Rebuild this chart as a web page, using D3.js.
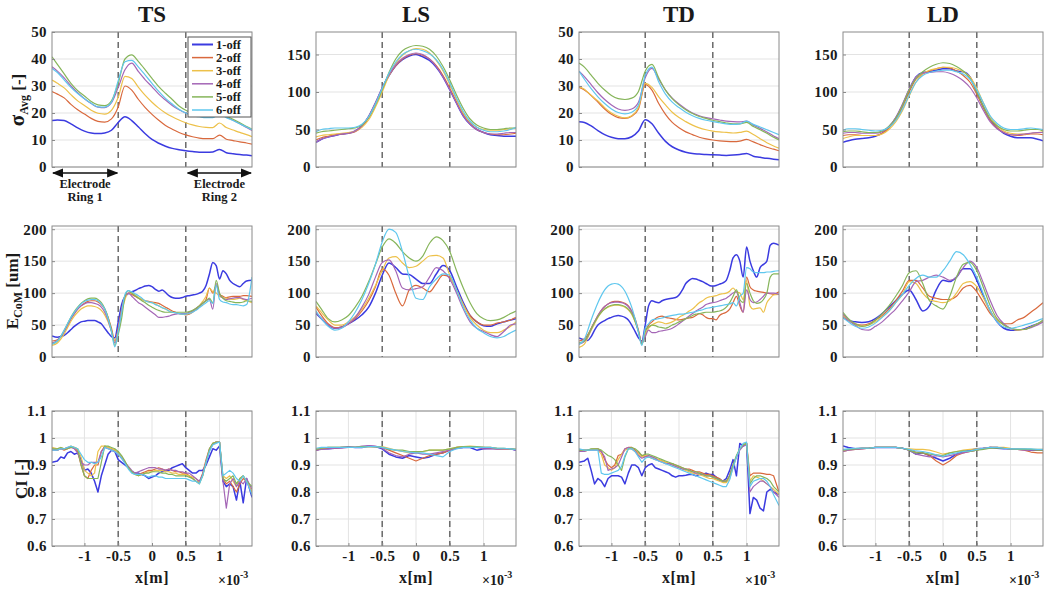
<!DOCTYPE html>
<html><head><meta charset="utf-8">
<script src="https://cdn.jsdelivr.net/npm/d3@7"></script>
<style>
body{margin:0;background:#fff}
svg{display:block}
text{font-family:"Liberation Serif","Times New Roman",serif;font-weight:bold;fill:#1a1a1a}
</style>
</head><body>
<svg id="c" width="1050" height="589"></svg>
<script>
const seriesNames = ['1-off','2-off','3-off','4-off','5-off','6-off'];
const seriesColors = ['#3b3be0','#d9693d','#edc14a','#a466b6','#86b55a','#5fc7ee'];
const columnTitles = ['TS','LS','TD','LD'];
const xTickValues = [-1,-0.5,0,0.5,1];
const xTickLabels = ['-1','-0.5','0','0.5','1'];
const electrodeEdges = [-0.5,0.5];
const xCoarse = [-1.48,-1.4,-1.3,-1.2,-1.1,-1,-0.9,-0.8,-0.7,-0.6,-0.5,-0.4,-0.3,-0.2,-0.1,0,0.1,0.2,0.3,0.4,0.5,0.6,0.7,0.8,0.9,1,1.1,1.2,1.3,1.4,1.48];
const xFine = [-1.48,-1.4,-1.35,-1.3,-1.25,-1.2,-1.15,-1.1,-1.05,-1,-0.95,-0.9,-0.85,-0.8,-0.75,-0.7,-0.65,-0.6,-0.55,-0.5,-0.45,-0.4,-0.35,-0.3,-0.25,-0.2,-0.15,-0.1,-0.05,0,0.05,0.1,0.15,0.2,0.25,0.3,0.35,0.4,0.45,0.5,0.55,0.6,0.65,0.7,0.75,0.8,0.85,0.9,0.95,1,1.05,1.1,1.15,1.2,1.25,1.3,1.35,1.4,1.48];

// Row 1: sigma_Avg
const sigmaTS = [
 [17.2,17.4,17.2,16.0,14.5,13.3,12.6,12.4,12.6,13.6,16.5,18.6,17.2,14.8,12.3,10.2,8.8,7.7,6.9,6.4,6.0,5.7,5.5,5.5,5.6,6.5,5.3,4.9,4.6,4.4,4.2],
 [27.9,27.0,25.6,23.2,21.2,19.6,18.0,16.9,16.6,17.8,22.2,30.0,28.5,25.0,22.0,19.5,17.3,15.4,14.0,12.8,11.9,11.2,10.7,10.5,10.5,11.8,10.3,9.8,9.3,8.9,8.5],
 [32.2,31.0,29.3,26.8,24.5,22.8,21.0,19.9,19.6,21.0,25.8,33.6,32.8,29.5,26.5,24.0,21.8,20.0,18.6,17.4,16.4,15.6,15.0,14.7,14.6,16.3,14.6,13.7,12.8,12.0,11.2],
 [37.1,35.5,33.0,30.0,27.5,25.3,23.5,22.2,22.0,23.8,29.5,36.0,38.5,35.3,32.3,29.7,27.0,24.8,22.8,21.2,20.0,19.2,18.8,18.6,18.6,20.0,18.5,17.3,16.0,14.6,13.5],
 [40.8,38.0,34.5,31.0,28.3,26.3,24.3,23.0,22.7,24.5,31.0,40.0,41.5,39.0,36.0,32.8,29.8,27.3,25.0,22.6,21.0,19.8,19.0,18.8,18.8,20.5,18.9,17.7,16.4,15.0,14.0],
 [36.5,35.0,32.3,29.5,27.2,25.3,23.6,22.3,22.2,24.0,32.0,39.0,39.5,37.0,34.0,31.0,28.0,25.4,23.3,21.4,20.0,19.0,18.6,18.3,18.3,19.6,18.3,17.2,16.0,14.8,13.8]
];
const sigmaLS = [
 [33,37,40,42,44,45,48,55,67,85,105,122,135,143,148,150,147,142,133,120,103,85,68,57,50,46,43,42,41,41,41],
 [36,39,41,43,44,45,47,54,66,84,104,122,135,144,149,151,149,144,135,122,105,87,70,58,50,46,44,43,43,44,45],
 [40,42,43,44,45,46,48,53,63,80,100,122,138,149,155,158,157,152,142,128,110,90,72,60,53,50,49,49,50,51,52],
 [33,37,40,42,44,45,48,55,68,86,106,123,136,145,150,152,150,144,134,120,103,85,68,57,50,46,44,44,45,46,46],
 [45,47,48,49,50,51,52,56,66,83,103,126,144,155,160,162,161,157,148,134,116,96,78,64,56,52,50,50,51,52,52],
 [47,50,51,52,52,52,53,57,67,84,105,125,140,150,155,157,155,151,143,130,112,92,74,61,53,49,47,47,48,50,53]
];
const sigmaTD = [
 [16.8,16.5,15.2,13.5,12.0,11.0,10.5,10.5,11.2,13.3,17.5,16.0,12.5,9.5,7.5,6.3,5.5,5.0,4.8,4.6,4.5,4.4,4.3,4.4,4.6,5.0,4.0,3.6,3.2,2.9,2.7],
 [29.5,28.5,26.5,24.0,21.5,19.5,18.3,18.0,18.8,21.5,30.5,28.5,23.5,19.5,16.5,14.5,13.0,12.0,11.0,10.4,10.0,9.7,9.5,9.4,9.6,10.2,9.3,8.3,7.3,6.6,6.0],
 [29.8,28.8,26.5,24.5,22.0,20.0,18.8,18.2,19.0,22.0,31.0,29.5,26.0,23.0,20.3,18.3,16.8,15.5,14.5,13.8,13.3,13.0,12.8,12.6,12.8,13.3,12.0,10.5,9.0,7.8,7.0],
 [35.5,33.5,30.5,27.5,25.0,23.0,21.5,21.0,21.5,24.0,33.0,36.5,32.5,28.5,25.5,23.3,21.5,20.0,19.0,18.3,17.8,17.4,17.0,16.8,16.7,17.0,15.5,14.3,13.0,11.5,10.5],
 [38.5,37.0,34.0,31.0,28.5,26.5,25.3,25.0,25.5,28.0,35.5,38.0,33.0,28.5,25.3,23.0,21.2,19.8,18.7,18.0,17.3,16.8,16.3,16.0,16.0,16.5,15.0,13.8,12.5,11.0,10.0],
 [35.5,32.5,29.0,26.0,23.5,21.5,20.2,19.7,20.3,23.0,34.0,37.0,31.5,27.0,24.0,22.0,20.3,19.0,18.0,17.3,16.8,16.4,16.0,15.8,16.0,17.0,15.8,14.8,13.8,12.8,12.0]
];
const sigmaLD = [
 [33,35,37,38,39,41,45,53,65,82,103,120,126,127,129,131,131,128,127,120,100,80,63,52,45,41,39,39,39,37,35],
 [42,43,43,42,42,42,45,52,63,80,100,117,124,128,131,133,132,128,122,113,97,78,62,52,46,43,42,43,44,44,43],
 [38,40,42,42,42,42,44,50,60,75,95,113,124,129,131,133,133,131,127,120,105,85,67,55,48,45,44,44,45,46,47],
 [45,46,46,45,45,45,47,54,66,84,104,120,125,126,127,127,125,121,115,106,92,75,60,51,46,43,43,44,45,46,46],
 [47,48,48,47,46,46,48,54,65,82,103,118,127,133,137,139,138,134,128,118,100,80,64,55,50,48,48,49,50,50,48],
 [49,51,51,50,49,48,49,53,62,77,96,113,122,126,128,129,129,127,124,117,103,85,68,58,52,50,50,51,52,51,50]
];

// Row 2: E_CoM
const ecomTS = [
 [33,31,32,34,38,43,48,52,55,56, 57,57,57,55,52,45,38,32,30,55, 82,95,99,102,104,107,109,111,112,110, 106,103,105,101,96,93,92,92,93,95, 96,97,98,100,103,112,130,148,143,122, 135,130,120,115,112,110,115,119,120],
 [25,27,32,40,50,60,68,75,80,84, 87,88,88,86,82,75,62,45,25,45, 75,95,100,98,95,92,90,88,87,86, 85,84,81,78,75,72,70,68,67,66, 67,70,74,78,84,90,108,100,112,98, 95,93,94,95,95,95,96,96,95],
 [18,22,28,36,46,56,64,70,75,78, 80,80,79,77,73,66,55,40,25,40, 70,90,100,100,97,93,90,88,86,85, 83,80,77,75,72,70,69,68,67,67, 68,72,76,80,87,95,108,102,100,95, 93,92,91,90,91,92,90,88,85],
 [22,26,32,40,50,60,68,75,80,83, 85,85,84,82,78,70,58,40,22,40, 72,95,100,95,90,85,82,78,74,70, 66,62,62,63,64,66,67,68,68,68, 70,72,76,80,84,88,90,75,115,98, 92,90,91,92,93,93,91,90,92],
 [20,25,32,42,52,62,71,78,84,88, 91,92,92,90,85,76,62,42,18,35, 60,95,104,100,96,92,88,85,81,78, 75,73,71,70,70,70,70,70,70,70, 71,73,76,80,84,88,92,85,120,100, 92,88,87,86,85,85,86,88,87],
 [20,25,32,42,52,62,70,77,83,87, 89,90,90,88,83,75,60,40,16,40, 70,98,104,102,99,96,92,88,86,85, 82,80,77,75,72,70,69,68,67,67, 68,70,73,77,81,85,88,84,112,90, 86,85,83,82,82,81,80,82,125]
];
const ecomLS = [
 [68,60,50,45,47,52,58,66,78,100,128,147,140,130,129,122,115,115,130,143,135,110,85,65,55,49,48,52,55,58,60],
 [78,65,52,46,47,52,60,72,88,110,138,128,100,80,105,112,108,102,115,128,125,105,82,65,55,50,50,53,55,58,62],
 [80,70,58,50,50,55,63,75,92,112,135,155,157,147,140,142,150,158,159,155,128,105,82,62,50,42,38,38,42,48,55],
 [70,60,50,45,46,52,62,78,98,125,148,152,135,108,105,107,110,125,140,135,122,100,75,55,45,40,35,32,40,50,52],
 [87,75,60,55,58,65,78,95,118,145,172,185,178,165,155,150,158,178,188,182,165,135,108,85,68,60,57,58,62,68,72],
 [72,60,48,42,45,55,70,90,115,145,180,200,195,165,125,92,90,110,122,130,128,105,78,58,45,38,32,30,32,38,42]
];
const ecomTD = [
 [30,27,26,32,42,50,54,57,60,62, 64,65,64,62,58,50,40,30,25,50, 80,88,86,85,88,90,91,92,93,97, 105,115,120,123,122,120,118,115,112,111, 112,114,116,120,135,155,160,150,125,172, 150,135,125,140,145,150,175,178,175],
 [25,28,35,45,55,65,73,79,83,86, 87,87,86,84,80,72,60,42,22,40, 50,55,60,63,64,62,61,60,59,58, 59,60,61,62,65,68,66,62,60,60, 58,65,68,70,75,85,95,80,70,125, 110,105,103,102,101,100,99,98,102],
 [15,20,30,42,52,62,70,75,78,80, 81,81,80,78,74,67,55,40,20,35, 45,50,53,55,54,52,53,55,58,62, 65,68,72,75,80,85,88,92,94,95, 96,98,99,100,103,108,102,100,90,120, 80,75,76,77,70,85,92,97,98],
 [20,24,32,44,55,65,73,79,83,85, 86,86,85,83,79,71,58,40,22,32, 42,38,38,40,41,42,43,45,48,52, 56,60,64,68,72,75,78,82,84,85, 86,88,90,92,96,100,102,85,70,105, 90,85,86,90,95,100,100,100,98],
 [22,25,33,44,54,63,70,75,79,81, 82,82,81,79,75,68,56,40,20,40, 47,50,49,47,46,45,47,50,52,55, 57,60,62,65,67,68,69,70,70,70, 71,72,74,78,85,95,105,90,85,115, 100,88,84,85,90,100,125,130,130],
 [20,28,42,58,72,85,96,105,111,114, 115,114,110,103,92,78,60,38,18,45, 52,58,59,60,61,63,64,65,66,67, 67,68,69,70,71,73,74,76,77,78, 79,80,81,82,83,85,80,95,100,140, 138,133,132,132,132,133,133,134,135]
];
const ecomLD = [
 [62,57,55,54,55,60,68,78,88,98,105,90,72,80,105,120,118,125,138,138,120,95,72,55,45,42,42,44,48,52,55],
 [65,57,52,50,52,58,65,75,88,103,120,120,108,95,92,90,90,95,108,112,102,85,68,58,52,52,58,62,70,78,85],
 [65,58,50,48,50,55,63,72,85,98,118,115,100,90,87,85,88,100,115,118,110,92,72,58,50,45,42,43,47,52,55],
 [68,58,50,43,42,48,55,65,75,88,102,118,120,125,128,125,120,125,140,150,140,115,88,65,52,45,43,43,46,50,55],
 [70,60,52,48,50,58,68,80,95,112,132,135,115,88,80,75,95,125,145,148,135,108,80,60,50,45,43,43,47,52,58],
 [62,55,48,45,47,53,62,72,85,98,112,123,128,125,125,135,150,165,160,145,125,98,72,55,47,45,47,50,53,57,60]
];

// Row 3: CI
const ciTS = [
 [.91,.915,.93,.925,.945,.95,.94,.945,.92,.88, .885,.87,.84,.80,.86,.90,.94,.955,.95,.92, .91,.90,.89,.875,.87,.87,.865,.86,.85,.855, .86,.87,.875,.88,.88,.89,.895,.90,.905,.89, .88,.87,.87,.88,.88,.90,.93,.96,.955,.97, .84,.82,.83,.82,.77,.84,.76,.85,.78],
 [.96,.955,.96,.955,.96,.965,.965,.95,.90,.86, .85,.88,.90,.90,.95,.97,.965,.96,.955,.945, .93,.91,.89,.875,.865,.865,.87,.875,.88,.88, .885,.89,.885,.88,.885,.88,.875,.875,.87,.87, .86,.85,.84,.835,.87,.92,.96,.98,.985,.985, .85,.83,.84,.82,.80,.83,.85,.84,.80],
 [.965,.96,.965,.96,.965,.97,.965,.96,.93,.88, .87,.86,.87,.95,.97,.97,.965,.96,.955,.945, .93,.91,.89,.875,.865,.86,.865,.87,.875,.875, .88,.88,.88,.875,.875,.87,.87,.865,.865,.865, .86,.855,.85,.835,.86,.91,.955,.98,.985,.985, .86,.85,.86,.84,.82,.85,.86,.84,.80],
 [.955,.955,.96,.96,.965,.965,.96,.945,.91,.90, .90,.91,.91,.91,.95,.965,.96,.955,.95,.94, .925,.91,.895,.88,.87,.875,.88,.885,.89,.89, .89,.885,.885,.88,.885,.88,.88,.875,.875,.87, .87,.86,.85,.84,.865,.91,.955,.975,.985,.985, .84,.74,.83,.85,.82,.84,.83,.85,.81],
 [.96,.96,.965,.96,.96,.965,.965,.96,.90,.86, .85,.85,.85,.85,.91,.97,.97,.965,.96,.95, .935,.915,.89,.875,.865,.86,.865,.87,.87,.875, .875,.875,.87,.87,.865,.865,.86,.86,.86,.86, .855,.85,.84,.83,.86,.91,.96,.98,.985,.985, .85,.84,.85,.86,.83,.85,.86,.84,.82],
 [.955,.955,.96,.96,.965,.97,.965,.96,.94,.92, .91,.91,.905,.91,.93,.965,.96,.955,.95,.94, .925,.905,.885,.87,.865,.865,.865,.86,.855,.86, .86,.855,.855,.85,.85,.85,.85,.85,.85,.85, .845,.84,.84,.83,.86,.91,.95,.975,.98,.985, .86,.87,.88,.87,.85,.84,.86,.84,.79]
];
const ciLS = [
 [.955,.96,.96,.962,.965,.968,.965,.965,.97,.968,.96,.94,.93,.925,.935,.93,.925,.93,.94,.945,.955,.962,.965,.965,.955,.96,.962,.96,.96,.96,.955],
 [.955,.96,.962,.962,.965,.965,.965,.968,.968,.968,.965,.955,.945,.935,.925,.915,.925,.935,.94,.945,.955,.965,.968,.968,.965,.965,.962,.96,.96,.96,.958],
 [.96,.962,.965,.965,.965,.965,.965,.968,.968,.968,.968,.962,.955,.95,.945,.945,.95,.955,.955,.955,.96,.965,.968,.97,.968,.965,.965,.962,.96,.96,.958],
 [.955,.958,.96,.962,.962,.965,.965,.97,.972,.97,.962,.945,.935,.93,.94,.945,.94,.94,.945,.95,.955,.962,.965,.965,.965,.96,.96,.96,.96,.96,.955],
 [.958,.962,.965,.965,.965,.965,.965,.968,.968,.968,.965,.958,.955,.955,.95,.95,.95,.955,.955,.955,.96,.965,.968,.968,.968,.965,.965,.962,.962,.96,.958],
 [.962,.965,.965,.965,.965,.965,.965,.965,.968,.968,.965,.96,.955,.95,.948,.945,.945,.94,.935,.93,.95,.96,.965,.965,.965,.965,.965,.962,.962,.96,.958]
];
const ciTD = [
 [.91,.915,.925,.88,.83,.85,.84,.82,.85,.86, .86,.86,.855,.83,.87,.90,.90,.89,.86,.89, .90,.905,.89,.885,.88,.875,.87,.86,.855,.86, .86,.862,.865,.865,.86,.865,.865,.87,.865,.865, .855,.845,.84,.85,.88,.92,.86,.98,.97,.98, .72,.78,.77,.74,.73,.80,.81,.80,.79],
 [.955,.955,.955,.958,.96,.96,.95,.92,.90,.89, .90,.935,.94,.96,.965,.965,.955,.945,.935,.935, .93,.925,.92,.92,.915,.91,.905,.905,.90,.895, .89,.885,.885,.88,.875,.875,.87,.865,.865,.86, .855,.85,.84,.84,.86,.90,.93,.96,.975,.98, .86,.87,.87,.87,.868,.865,.865,.86,.80],
 [.95,.95,.955,.958,.96,.955,.94,.90,.89,.88, .89,.92,.94,.955,.96,.96,.95,.94,.93,.935, .935,.93,.925,.92,.915,.91,.905,.90,.895,.89, .885,.88,.875,.87,.868,.865,.86,.855,.85,.85, .845,.84,.835,.835,.85,.89,.93,.96,.975,.98, .84,.86,.855,.85,.84,.83,.82,.81,.79],
 [.95,.95,.955,.955,.955,.955,.95,.93,.88,.885, .89,.90,.93,.96,.965,.96,.95,.935,.925,.93, .935,.93,.925,.915,.91,.905,.905,.90,.895,.89, .885,.885,.88,.875,.87,.87,.865,.86,.86,.855, .85,.845,.84,.84,.86,.90,.93,.955,.97,.975, .80,.82,.83,.84,.84,.83,.82,.80,.78],
 [.955,.955,.955,.96,.96,.96,.955,.945,.935,.93, .92,.90,.88,.93,.96,.965,.96,.95,.935,.94, .94,.935,.93,.925,.92,.915,.91,.905,.90,.895, .89,.885,.88,.875,.875,.87,.865,.86,.86,.855, .85,.845,.84,.84,.86,.90,.935,.96,.975,.98, .83,.85,.86,.86,.855,.85,.84,.82,.80],
 [.96,.955,.955,.955,.955,.955,.87,.865,.865,.87, .875,.88,.895,.935,.96,.96,.95,.93,.91,.925, .93,.925,.92,.915,.91,.905,.90,.895,.89,.885, .88,.875,.87,.865,.86,.855,.85,.845,.84,.835, .83,.825,.82,.82,.845,.89,.93,.96,.98,.985, .82,.84,.845,.85,.85,.84,.82,.79,.75]
];
const ciLD = [
 [.97,.965,.96,.962,.962,.965,.965,.965,.965,.962,.955,.94,.945,.935,.925,.915,.925,.94,.95,.955,.96,.962,.965,.962,.96,.96,.96,.958,.955,.955,.955],
 [.95,.955,.958,.96,.962,.965,.965,.965,.965,.962,.955,.948,.945,.935,.915,.90,.915,.935,.945,.95,.955,.962,.965,.965,.962,.96,.958,.955,.948,.945,.945],
 [.955,.958,.96,.962,.962,.965,.965,.965,.965,.962,.96,.958,.958,.955,.948,.94,.945,.95,.955,.958,.96,.962,.965,.965,.965,.962,.96,.96,.958,.958,.958],
 [.95,.955,.958,.96,.962,.965,.965,.965,.965,.962,.955,.94,.935,.93,.935,.93,.935,.94,.945,.95,.955,.962,.965,.965,.962,.96,.958,.955,.955,.955,.955],
 [.955,.958,.96,.962,.962,.965,.965,.965,.965,.962,.955,.945,.945,.94,.938,.935,.945,.95,.952,.95,.955,.958,.962,.962,.962,.96,.958,.958,.958,.955,.955],
 [.958,.96,.962,.962,.962,.965,.965,.965,.965,.962,.958,.952,.95,.945,.938,.932,.94,.945,.95,.952,.958,.962,.965,.965,.962,.96,.96,.96,.96,.958,.958]
];

const sigmaTicks = [0,10,20,30,40,50];
const sigmaWideTicks = [0,50,100,150];
const ecomTicks = [0,50,100,150,200];
const ciTicks = [0.6,0.7,0.8,0.9,1,1.1];

// ---------- layout ----------
const svg = d3.select('#c');
const colX = [52,316,579,843], plotW = 200;
const rowY = [32,226,411], rowH = [135,131,135];
const xDomain = [-1.48,1.48];

const panels = [
 {r:0,c:0,data:sigmaTS,xs:xCoarse,yd:[0,50],yt:sigmaTicks,curve:d3.curveMonotoneX},
 {r:0,c:1,data:sigmaLS,xs:xCoarse,yd:[0,180],yt:sigmaWideTicks,curve:d3.curveMonotoneX},
 {r:0,c:2,data:sigmaTD,xs:xCoarse,yd:[0,50],yt:sigmaTicks,curve:d3.curveMonotoneX},
 {r:0,c:3,data:sigmaLD,xs:xCoarse,yd:[0,180],yt:sigmaWideTicks,curve:d3.curveMonotoneX},
 {r:1,c:0,data:ecomTS,xs:xFine,yd:[0,205],yt:ecomTicks,curve:d3.curveMonotoneX},
 {r:1,c:1,data:ecomLS,xs:xCoarse,yd:[0,205],yt:ecomTicks,curve:d3.curveMonotoneX},
 {r:1,c:2,data:ecomTD,xs:xFine,yd:[0,205],yt:ecomTicks,curve:d3.curveMonotoneX},
 {r:1,c:3,data:ecomLD,xs:xCoarse,yd:[0,205],yt:ecomTicks,curve:d3.curveMonotoneX},
 {r:2,c:0,data:ciTS,xs:xFine,yd:[0.6,1.1],yt:ciTicks,curve:d3.curveLinear},
 {r:2,c:1,data:ciLS,xs:xCoarse,yd:[0.6,1.1],yt:ciTicks,curve:d3.curveLinear},
 {r:2,c:2,data:ciTD,xs:xFine,yd:[0.6,1.1],yt:ciTicks,curve:d3.curveLinear},
 {r:2,c:3,data:ciLD,xs:xCoarse,yd:[0.6,1.1],yt:ciTicks,curve:d3.curveLinear}
];

const defs = svg.append('defs');
defs.append('marker').attr('id','ah').attr('viewBox','0 0 10 10').attr('refX',9).attr('refY',5)
  .attr('markerWidth',7).attr('markerHeight',7).attr('orient','auto-start-reverse')
  .append('path').attr('d','M0,1 L10,5 L0,9 Z').attr('fill','#111');

panels.forEach((p,i)=>{
  const x0 = colX[p.c], y0 = rowY[p.r], h = rowH[p.r];
  const x = d3.scaleLinear().domain(xDomain).range([x0, x0+plotW]);
  const y = d3.scaleLinear().domain(p.yd).range([y0+h, y0]);
  const g = svg.append('g');
  defs.append('clipPath').attr('id','cp'+i).append('rect').attr('x',x0).attr('y',y0).attr('width',plotW).attr('height',h);

  g.selectAll('line.hg').data(p.yt).join('line').attr('class','hg')
    .attr('x1',x0).attr('x2',x0+plotW).attr('y1',d=>y(d)).attr('y2',d=>y(d))
    .attr('stroke','#e3e3e3').attr('stroke-width',1);
  if (p.r===2) {
    g.selectAll('line.vg').data(xTickValues).join('line').attr('class','vg')
      .attr('x1',d=>x(d)).attr('x2',d=>x(d)).attr('y1',y0).attr('y2',y0+h)
      .attr('stroke','#e3e3e3').attr('stroke-width',1);
  }
  g.selectAll('line.dl').data(electrodeEdges).join('line').attr('class','dl')
    .attr('x1',d=>x(d)).attr('x2',d=>x(d)).attr('y1',y0).attr('y2',y0+h)
    .attr('stroke','#6a6a6a').attr('stroke-width',1.5).attr('stroke-dasharray','6,4');

  const line = d3.line().x((d,k)=>x(p.xs[k])).y(d=>y(d)).curve(p.curve);
  g.append('g').attr('clip-path','url(#cp'+i+')')
    .selectAll('path').data(p.data).join('path')
    .attr('d',d=>line(d)).attr('fill','none')
    .attr('stroke',(d,k)=>seriesColors[k]).attr('stroke-width',(d,k)=>k===0?1.5:1.2)
    .attr('stroke-linejoin','round');

  g.append('rect').attr('x',x0).attr('y',y0).attr('width',plotW).attr('height',h)
    .attr('fill','none').attr('stroke','#8a8a8a').attr('stroke-width',1);

  const ya = g.append('g').attr('transform',`translate(${x0},0)`)
    .call(d3.axisLeft(y).tickValues(p.yt).tickSize(-3).tickPadding(5)
      .tickFormat(d=>String(+d.toFixed(2))));
  ya.select('.domain').remove();
  ya.selectAll('line').attr('stroke','#8a8a8a');
  ya.selectAll('text').attr('font-size',15).attr('fill','#1a1a1a').attr('letter-spacing',0.4)
    .attr('font-family','"Liberation Serif",serif').attr('font-weight','bold');

  if (p.r===2) {
    const xa = g.append('g').attr('transform',`translate(0,${y0+h})`)
      .call(d3.axisBottom(x).tickValues(xTickValues).tickSize(-3).tickPadding(4)
        .tickFormat((d,k)=>xTickLabels[k]));
    xa.select('.domain').remove();
    xa.selectAll('line').attr('stroke','#8a8a8a');
    xa.selectAll('text').attr('font-size',15).attr('fill','#1a1a1a').attr('letter-spacing',0.4)
      .attr('font-family','"Liberation Serif",serif').attr('font-weight','bold');
    svg.append('text').attr('x',x0+plotW/2).attr('y',583).attr('text-anchor','middle')
      .attr('font-size',16).attr('letter-spacing',0.5).text('x[m]');
    const t = svg.append('text').attr('x',x0+plotW-34).attr('y',585).attr('font-size',14).attr('font-weight','normal');
    t.append('tspan').text('×10');
    t.append('tspan').attr('dy',-7).attr('font-size',10).text('-3');
  }
  if (p.r===0) {
    svg.append('text').attr('x',x0+plotW/2).attr('y',22).attr('text-anchor','middle')
      .attr('font-size',23).text(columnTitles[p.c]);
  }
});

// y labels
(function(){
  const l1 = svg.append('text').attr('transform','translate(24,100) rotate(-90)').attr('text-anchor','middle').attr('font-size',17);
  l1.append('tspan').attr('font-size',21).text('σ');
  l1.append('tspan').attr('font-size',12).attr('dy',4).text('Avg');
  l1.append('tspan').attr('dy',-4).text(' [-]');
  const l2 = svg.append('text').attr('transform','translate(18,291) rotate(-90)').attr('text-anchor','middle').attr('font-size',17);
  l2.append('tspan').text('E');
  l2.append('tspan').attr('font-size',12).attr('dy',4).text('CoM');
  l2.append('tspan').attr('dy',-4).text(' [um]');
  svg.append('text').attr('transform','translate(27,479) rotate(-90)').attr('text-anchor','middle').attr('font-size',17).text('CI [-]');
})();

// legend (TS sigma panel)
(function(){
  const lx = 188, ly = 37, lw = 63, lh = 80;
  const g = svg.append('g');
  g.append('rect').attr('x',lx).attr('y',ly).attr('width',lw).attr('height',lh)
    .attr('fill','#fff').attr('stroke','#555').attr('stroke-width',1);
  seriesNames.forEach((n,k)=>{
    const yy = ly + 7.5 + k*13.1;
    g.append('line').attr('x1',lx+4).attr('x2',lx+25).attr('y1',yy).attr('y2',yy)
      .attr('stroke',seriesColors[k]).attr('stroke-width',k===0?2:1.5);
    g.append('text').attr('x',lx+28).attr('y',yy+4).attr('font-size',12.5).text(n);
  });
})();

// electrode ring annotations
(function(){
  const x = d3.scaleLinear().domain(xDomain).range([colX[0], colX[0]+plotW]);
  const ay = 173;
  [[xDomain[0],electrodeEdges[0],'Ring 1'],[electrodeEdges[1],xDomain[1],'Ring 2']].forEach(([a,b,lbl],k)=>{
    const xa = x(a)+(k===1?2:1), xb = x(b)-1;
    svg.append('line').attr('x1',xa).attr('x2',xb).attr('y1',ay).attr('y2',ay)
      .attr('stroke','#111').attr('stroke-width',1.6)
      .attr('marker-start','url(#ah)').attr('marker-end','url(#ah)');
    const cx = (xa+xb)/2;
    svg.append('text').attr('x',cx).attr('y',188).attr('text-anchor','middle').attr('font-size',12.5).text('Electrode');
    svg.append('text').attr('x',cx).attr('y',201).attr('text-anchor','middle').attr('font-size',12.5).text(lbl);
  });
})();
</script>
</body></html>
